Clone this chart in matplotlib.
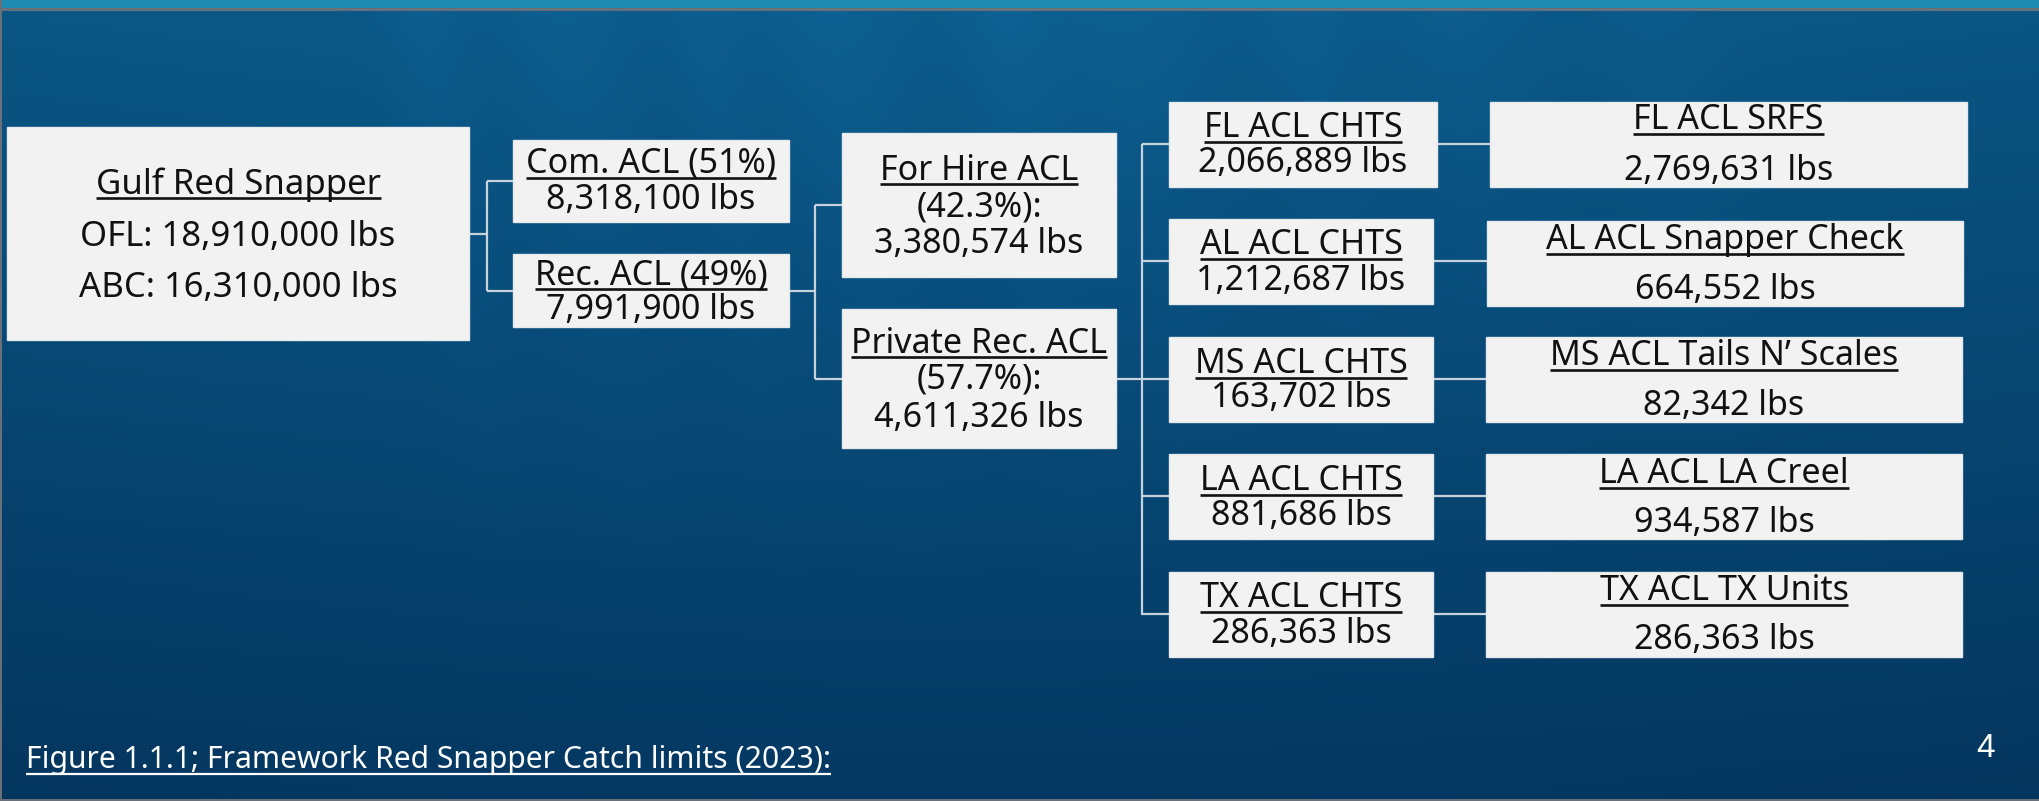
import numpy as np
import matplotlib
matplotlib.use("Agg")
import matplotlib.pyplot as plt
from matplotlib.patches import Rectangle

W, H, DPI = 2039, 801, 100

# ------------------------------------------------------------------ data
root_title = "Gulf Red Snapper"
root_lines = ["OFL: 18,910,000 lbs", "ABC: 16,310,000 lbs"]

sector_titles = ["Com. ACL (51%)", "Rec. ACL (49%)"]
sector_values = ["8,318,100 lbs", "7,991,900 lbs"]

rec_titles = ["For Hire ACL", "Private Rec. ACL"]
rec_shares = ["(42.3%):", "(57.7%):"]
rec_values = ["3,380,574 lbs", "4,611,326 lbs"]

states = ["FL", "AL", "MS", "LA", "TX"]
chts_values = ["2,066,889 lbs", "1,212,687 lbs", "163,702 lbs", "881,686 lbs", "286,363 lbs"]
survey_names = ["SRFS", "Snapper Check", "Tails N\u2019 Scales", "LA Creel", "TX Units"]
survey_values = ["2,769,631 lbs", "664,552 lbs", "82,342 lbs", "934,587 lbs", "286,363 lbs"]

caption = "Figure 1.1.1; Framework Red Snapper Catch limits (2023):"
page_number = "4"

# ------------------------------------------------------------------ layout (pixels)
root_box = (7, 127, 469, 340)
sector_boxes = [(513, 140, 789, 222), (513, 254, 789, 327)]
rec_boxes = [(842, 133, 1116, 277), (842, 309, 1116, 448)]
chts_boxes = [(1169, 102, 1437, 187), (1169, 219, 1433, 304), (1169, 337, 1433, 422),
              (1169, 454, 1433, 539), (1169, 572, 1433, 657)]
survey_boxes = [(1490, 102, 1967, 187), (1487, 221, 1963, 306), (1486, 337, 1962, 422),
                (1486, 454, 1962, 539), (1486, 572, 1962, 657)]

root_base = [194, 246, 297]
sector_base = [(173, 209), (284, 319)]
rec_base = [(180, 217, 253), (353, 389, 427)]
chts_base = [(137, 172), (254, 290), (373, 407), (490, 525), (607, 643)]
survey_base = [(129, 180), (249, 299), (365, 415), (483, 532), (600, 649)]

FONT = ["Noto Sans", "DejaVu Sans"]
FS = 24.5
TXT = "#111111"
BOXFILL = "#f2f2f2"
LINEC = "#c8d2dc"

fig = plt.figure(figsize=(W / DPI, H / DPI), dpi=DPI)
ax = fig.add_axes([0, 0, 1, 1])
ax.set_xlim(0, W)
ax.set_ylim(H, 0)
ax.axis("off")

# ------------------------------------------------------------------ background
yy, xx = np.mgrid[0:H, 0:W].astype(float)
t = yy / H
top = np.array([11, 90, 138]) / 255.0
bot = np.array([4, 56, 98]) / 255.0
bg = top[None, None, :] * (1 - t[..., None]) + bot[None, None, :] * t[..., None]
# soft light rays
rays = np.zeros((H, W))
for cx_, wdt, amp in [(420, 40, 0.5), (560, 60, 0.6), (700, 35, 0.5), (830, 70, 0.7),
                      (1000, 50, 0.7), (1120, 80, 0.6), (1300, 45, 0.5), (1450, 70, 0.4),
                      (1650, 60, 0.3)]:
    rays += amp * np.exp(-((xx - cx_ - 0.15 * yy) / wdt) ** 2)
fade = np.clip(1 - yy / 650, 0, 1) ** 1.5
bg += (rays * fade)[..., None] * np.array([0.015, 0.04, 0.05])[None, None, :]
# side darkening
side = np.exp(-((xx - 950) / 1400) ** 2)
bg *= (0.9 + 0.1 * side)[..., None]
# top strip and frame lines
bg[0:8, :, :] = np.array([30, 140, 178]) / 255.0
bg[8:11, :, :] = np.array([105, 112, 120]) / 255.0
bg[:, 0:2, :] = np.array([105, 112, 120]) / 255.0
bg[H - 2:H, :, :] = np.array([105, 112, 120]) / 255.0
ax.imshow(np.clip(bg, 0, 1), extent=(0, W, H, 0), zorder=0, aspect="auto",
          interpolation="bilinear")

# ------------------------------------------------------------------ helpers
renderer = fig.canvas.get_renderer()


def box(b):
    x0, y0, x1, y1 = b
    ax.add_patch(Rectangle((x0, y0), x1 - x0, y1 - y0, facecolor=BOXFILL,
                           edgecolor="#e6e9ec", lw=1.0, zorder=2))


def text(x, y, s, under=False, color=TXT, fs=FS, ha="center", ugap=5, ulw=1.9):
    tt = ax.text(x, y, s, ha=ha, va="baseline", fontsize=fs, color=color,
                 family=FONT, zorder=3)
    if under:
        bb = tt.get_window_extent(renderer)
        ax.plot([bb.x0, bb.x1], [y + ugap, y + ugap], color=color, lw=ulw,
                solid_capstyle="butt", zorder=3)
    return tt


def seg(xs, ys):
    ax.plot(xs, ys, color=LINEC, lw=1.6, zorder=1, solid_capstyle="butt")


def cx(b):
    return (b[0] + b[2]) / 2


def cy(b):
    return (b[1] + b[3]) / 2


# ------------------------------------------------------------------ connectors
xj = 487
seg([root_box[2], xj], [cy(root_box)] * 2)
seg([xj, xj], [cy(sector_boxes[0]), cy(sector_boxes[1])])
for b in sector_boxes:
    seg([xj, b[0]], [cy(b)] * 2)
xj = 815
seg([sector_boxes[1][2], xj], [cy(sector_boxes[1])] * 2)
seg([xj, xj], [cy(rec_boxes[0]), cy(rec_boxes[1])])
for b in rec_boxes:
    seg([xj, b[0]], [cy(b)] * 2)
xj = 1142
seg([rec_boxes[1][2], xj], [cy(rec_boxes[1])] * 2)
seg([xj, xj], [cy(chts_boxes[0]) - 1, cy(chts_boxes[-1])])
for b in chts_boxes:
    seg([xj, b[0]], [cy(b) - 1] * 2)
for b, s in zip(chts_boxes, survey_boxes):
    seg([b[2], s[0]], [cy(b) - 1] * 2)

# ------------------------------------------------------------------ boxes & text
box(root_box)
text(cx(root_box), root_base[0], root_title, under=True, fs=25, ugap=4)
for s, yb in zip(root_lines, root_base[1:]):
    text(cx(root_box), yb, s, fs=25)

for b, ttl, val, (y1, y2) in zip(sector_boxes, sector_titles, sector_values, sector_base):
    box(b)
    text(cx(b), y1, ttl, under=True)
    text(cx(b), y2, val)

for b, ttl, sh, val, (y1, y2, y3) in zip(rec_boxes, rec_titles, rec_shares, rec_values, rec_base):
    box(b)
    text(cx(b), y1, ttl, under=True, ugap=4)
    text(cx(b), y2, sh)
    text(cx(b), y3, val)

for b, st, val, (y1, y2) in zip(chts_boxes, states, chts_values, chts_base):
    box(b)
    text(cx(b), y1, f"{st} ACL CHTS", under=True)
    text(cx(b), y2, val)

for b, st, nm, val, (y1, y2) in zip(survey_boxes, states, survey_names, survey_values, survey_base):
    box(b)
    text(cx(b), y1, f"{st} ACL {nm}", under=True)
    text(cx(b), y2, val)

# caption and page number
text(26, 768, caption, under=True, color="white", fs=21.7, ha="left", ugap=6, ulw=1.6)
ax.text(1986, 757, page_number, ha="center", va="baseline", fontsize=24,
        color="white", family=["Liberation Sans", "DejaVu Sans"], zorder=3)

fig.savefig("out.png", dpi=DPI)
